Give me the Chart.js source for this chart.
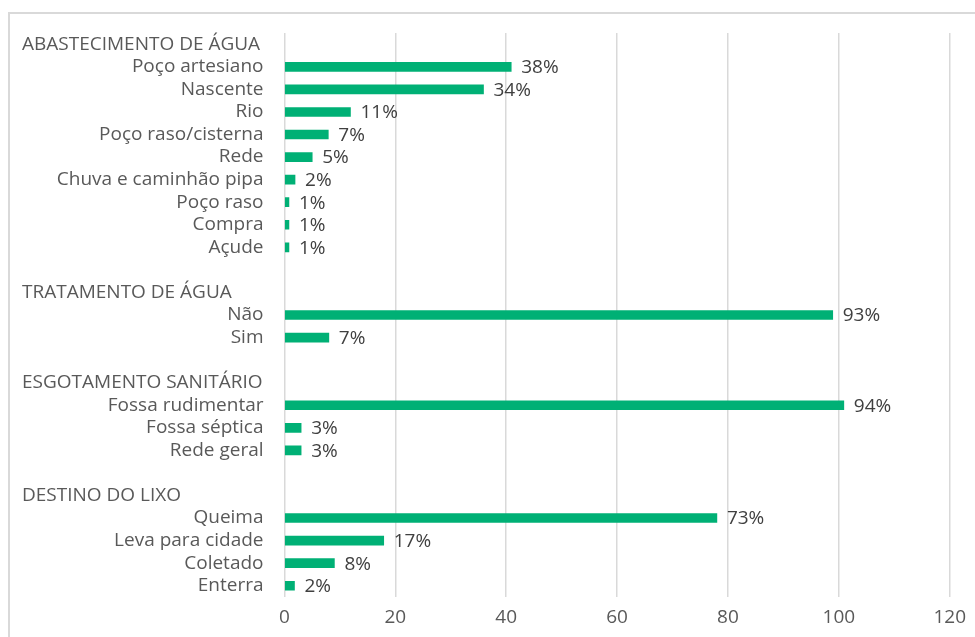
<!DOCTYPE html>
<html lang="pt-br">
<head>
    <meta charset="UTF-8">
    <title>Saneamento</title>
    <script src="https://cdn.jsdelivr.net/npm/chart.js"></script>
    <style>
        body { margin: 0; background: #fff; }
        #caixa { position: relative; width: 975px; height: 637px; }
        #moldura { position: absolute; left: 8px; top: 12px; right: -2px; bottom: -2px;
                   border-left: 2px solid #d9d9d9; border-top: 2px solid #d9d9d9; }
    </style>
</head>
<body>
    <div id="caixa">
        <div id="moldura"></div>
        <canvas id="grafico1" width="975" height="637"></canvas>
    </div>
    <script>
        const grupos = ["ABASTECIMENTO DE ÁGUA", "TRATAMENTO DE ÁGUA", "ESGOTAMENTO SANITÁRIO", "DESTINO DO LIXO"]

        const itensAgua = ["Poço artesiano", "Nascente", "Rio", "Poço raso/cisterna", "Rede", "Chuva e caminhão pipa", "Poço raso", "Compra", "Açude"]
        const valoresAgua = [40.9, 35.9, 11.9, 7.9, 5.0, 1.9, 0.8, 0.8, 0.8]
        const rotulosAgua = ["38%", "34%", "11%", "7%", "5%", "2%", "1%", "1%", "1%"]

        const itensTratamento = ["Não", "Sim"]
        const valoresTratamento = [98.9, 8.0]
        const rotulosTratamento = ["93%", "7%"]

        const itensEsgoto = ["Fossa rudimentar", "Fossa séptica", "Rede geral"]
        const valoresEsgoto = [100.9, 3.0, 3.0]
        const rotulosEsgoto = ["94%", "3%", "3%"]

        const itensLixo = ["Queima", "Leva para cidade", "Coletado", "Enterra"]
        const valoresLixo = [78.0, 17.9, 9.0, 1.8]
        const rotulosLixo = ["73%", "17%", "8%", "2%"]

        const ticksX = [0, 20, 40, 60, 80, 100, 120]

        // monta as linhas: cabecalho, itens, linha vazia
        const blocos = [
            [itensAgua, valoresAgua, rotulosAgua],
            [itensTratamento, valoresTratamento, rotulosTratamento],
            [itensEsgoto, valoresEsgoto, rotulosEsgoto],
            [itensLixo, valoresLixo, rotulosLixo]
        ]
        let labelsY = []
        let valores = []
        let rotulos = []
        let cabecalhos = {}
        blocos.forEach((b, i) => {
            cabecalhos[labelsY.length] = grupos[i]
            labelsY.push(grupos[i]); valores.push(null); rotulos.push("")
            b[0].forEach((nome, j) => {
                labelsY.push(nome); valores.push(b[1][j]); rotulos.push(b[2][j])
            })
            if (i < blocos.length - 1) {
                labelsY.push(" "); valores.push(null); rotulos.push("")
            }
        })

        const fonte = { family: "'Open Sans', sans-serif", size: 19 }

        const textosExtras = {
            id: 'textosExtras',
            afterDatasetsDraw(chart) {
                const c = chart.ctx
                const y = chart.scales.y
                c.save()
                c.font = "19px 'Open Sans', sans-serif"
                c.textBaseline = 'middle'
                c.fillStyle = '#595959'
                c.textAlign = 'left'
                for (const idx in cabecalhos) {
                    c.fillText(cabecalhos[idx], 22, y.getPixelForValue(Number(idx)))
                }
                c.fillStyle = '#404040'
                chart.getDatasetMeta(0).data.forEach((barra, i) => {
                    if (valores[i] === null) return
                    c.fillText(rotulos[i], barra.x + 10, barra.y + 1)
                })
                c.restore()
            }
        }

        const ctx = document.getElementById('grafico1')
        let grafico1 = new Chart(ctx, {
            type: 'bar',
            data: {
                labels: labelsY,
                datasets: [{
                    data: valores,
                    backgroundColor: '#00b075',
                    barThickness: 9
                }]
            },
            options: {
                indexAxis: 'y',
                responsive: false,
                animation: false,
                layout: { padding: { top: 33, right: 22, left: 0, bottom: 0 } },
                plugins: { legend: { display: false }, tooltip: { enabled: false } },
                scales: {
                    x: {
                        min: 0, max: 120,
                        afterBuildTicks: s => { s.ticks = ticksX.map(v => ({ value: v })) },
                        grid: { color: '#d9d9d9', lineWidth: 1.5, drawTicks: false },
                        border: { display: false },
                        ticks: { color: '#595959', font: fonte, padding: 9 },
                        afterFit: s => { s.height = 40 }
                    },
                    y: {
                        grid: { display: false },
                        border: { display: false },
                        ticks: {
                            color: '#595959', font: fonte, padding: 13, autoSkip: false,
                            callback: function (v, i) { return cabecalhos[i] !== undefined ? "" : labelsY[i] }
                        },
                        afterFit: s => { s.width = 284.5 }
                    }
                }
            },
            plugins: [textosExtras]
        })
    </script>
</body>
</html>
